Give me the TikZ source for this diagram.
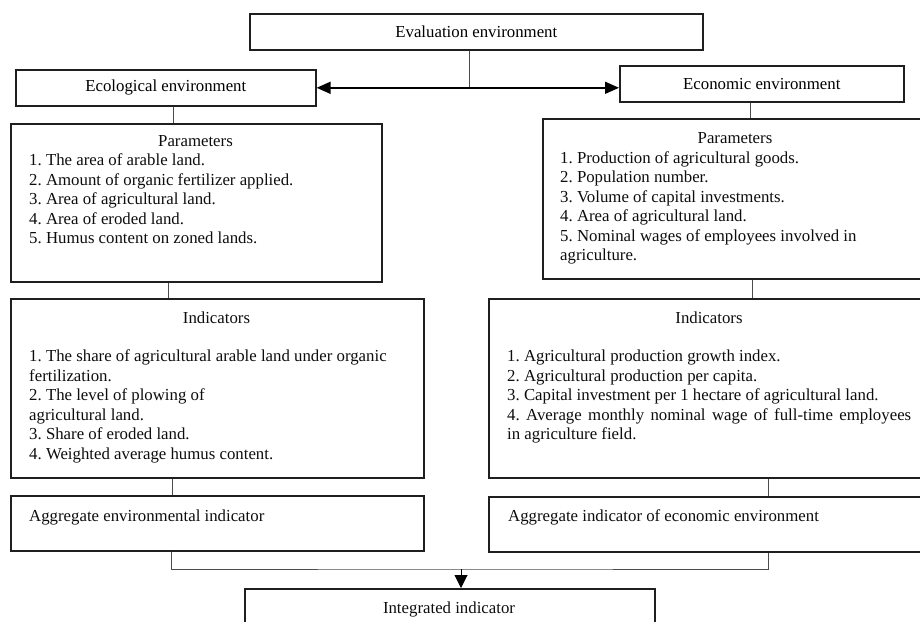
\documentclass[tikz,border=0pt]{standalone}
\usepackage{fontspec}
\setmainfont{Liberation Serif}
\usetikzlibrary{arrows.meta,calc}
\frenchspacing
\tikzset{
  box/.style={draw=black!88, line width=1.6pt, inner sep=0pt, anchor=north west},
  conn/.style={draw=black!70, line width=1pt},
  arr/.style={draw=black, line width=1.6pt},
  txt/.style={font=\fontsize{16.8}{19.5}\selectfont, text=black!95, inner sep=0pt, anchor=base west},
  ttl/.style={txt, anchor=base}
}
\begin{document}
\begin{tikzpicture}[x=1pt,y=-1pt]
\useasboundingbox (0,0) rectangle (920,621);
\clip (0,0) rectangle (920,621);
% boxes
\node[box, minimum width=453pt, minimum height=36pt, font=\fontsize{16.8}{19.5}\selectfont] (eval) at (249,13) {Evaluation environment};
\node[box, minimum width=300pt, minimum height=36pt, font=\fontsize{16.8}{19.5}\selectfont] (ecol) at (15,69) {Ecological environment};
\node[box, minimum width=284pt, minimum height=36pt, font=\fontsize{16.8}{19.5}\selectfont] (econ) at (619,65) {Economic environment};
\node[box, minimum width=371pt, minimum height=158pt] (lpar) at (10,123) {};
\node[box, minimum width=386pt, minimum height=160pt] (rpar) at (542,118) {};
\node[box, minimum width=413pt, minimum height=179pt] (lind) at (10,298) {};
\node[box, minimum width=442pt, minimum height=179pt] (rind) at (488,298) {};
\node[box, minimum width=413pt, minimum height=55pt] (lagg) at (10,495) {};
\node[box, minimum width=442pt, minimum height=55pt] (ragg) at (488,496) {};
\node[box, minimum width=410pt, minimum height=60pt] (integ) at (244,588) {};
% texts: left parameters
\node[ttl] (lpt) at (195.5,146) {Parameters};
\node[txt] (lp1) at (29,165.5) {1. The area of arable land.};
\node[txt] (lp2) at (29,185) {2. Amount of organic fertilizer applied.};
\node[txt] (lp3) at (29,204.5) {3. Area of agricultural land.};
\node[txt] (lp4) at (29,224) {4. Area of eroded land.};
\node[txt] (lp5) at (29,243.5) {5. Humus content on zoned lands.};
% right parameters
\node[ttl] (rpt) at (735,143.5) {Parameters};
\node[txt] (rp1) at (560,163) {1. Production of agricultural goods.};
\node[txt] (rp2) at (560,182.5) {2. Population number.};
\node[txt] (rp3) at (560,202) {3. Volume of capital investments.};
\node[txt] (rp4) at (560,221.5) {4. Area of agricultural land.};
\node[txt] (rp5) at (560,241) {5. Nominal wages of employees involved in};
\node[txt] (rp6) at (560,260.5) {agriculture.};
% left indicators
\node[ttl] (lit) at (216.5,323.5) {Indicators};
\node[txt] (li1) at (29,361.5) {1. The share of agricultural arable land under organic};
\node[txt] (li2) at (29,381) {fertilization.};
\node[txt] (li3) at (29,400.5) {2. The level of plowing of};
\node[txt] (li4) at (29,420) {agricultural land.};
\node[txt] (li5) at (29,439.5) {3. Share of eroded land.};
\node[txt] (li6) at (29,459) {4. Weighted average humus content.};
% right indicators
\node[ttl] (rit) at (709,323.5) {Indicators};
\node[txt] (ri1) at (507,361.5) {1. Agricultural production growth index.};
\node[txt] (ri2) at (507,381) {2. Agricultural production per capita.};
\node[txt] (ri3) at (507,400.5) {3. Capital investment per 1 hectare of agricultural land.};
\node[txt] (ri4) at (507,420) {\makebox[404pt][s]{4. Average monthly nominal wage of full-time employees}};
\node[txt] (ri5) at (507,439.5) {in agriculture field.};
% aggregate
\node[txt] (lat) at (29,521.5) {Aggregate environmental indicator};
\node[txt] (rat) at (508,521.5) {Aggregate indicator of economic environment};
\node[ttl] (itt) at (449,613.5) {Integrated indicator};
% connectors
\coordinate (j1) at (469,87);
\coordinate (j2) at (461,569);
\draw[conn] (eval.south -| j1) -- (j1);
\draw[arr, {Triangle[length=14pt,width=12pt]}-{Triangle[length=14pt,width=12pt]}] (ecol.east) -- (ecol.east -| econ.west);
\draw[conn] ([xshift=8pt]ecol.south) -- ([xshift=8pt]ecol.south |- lpar.north);
\draw[conn] ([xshift=-27.5pt]lpar.south) -- ([xshift=-27.5pt]lpar.south |- lind.north);
\draw[conn] ([xshift=-44.5pt]lind.south) -- ([xshift=-44.5pt]lind.south |- lagg.north);
\draw[conn] ([xshift=-11pt]econ.south) -- ([xshift=-11pt]econ.south |- rpar.north);
\draw[conn] ([xshift=17pt]rpar.south) -- ([xshift=17pt]rpar.south |- rind.north);
\draw[conn] ([xshift=58.5pt]rind.south) -- ([xshift=58.5pt]rind.south |- ragg.north);
\draw[conn] ([xshift=-45.5pt]lagg.south) |- (j2) -| ([xshift=59pt]ragg.south);
\draw[arr, line width=1pt, -{Triangle[length=13pt,width=13pt]}] (j2) -- (j2 |- integ.north);
\end{tikzpicture}
\end{document}
